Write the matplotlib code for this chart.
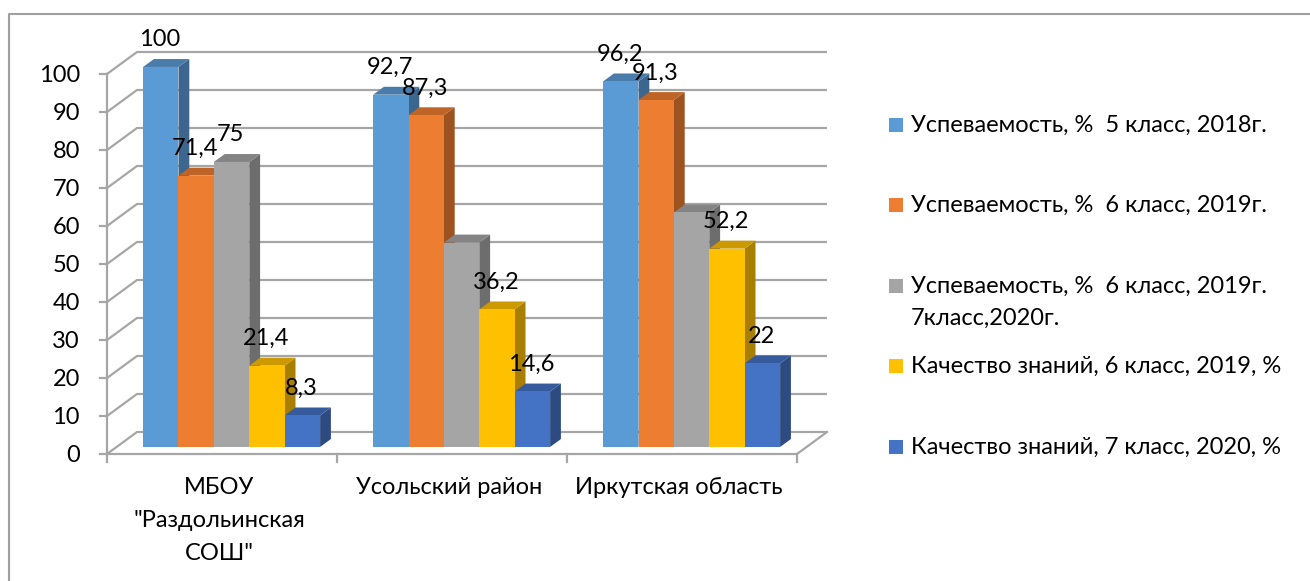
import matplotlib
matplotlib.use("Agg")
import matplotlib.pyplot as plt
from matplotlib.patches import Polygon, Rectangle
from matplotlib.lines import Line2D
from matplotlib.colors import to_rgb

# data
categories = ['МБОУ\n"Раздольинская\nСОШ"', "Усольский район", "Иркутская область"]
series_names = [
    "Успеваемость, %  5 класс, 2018г.",
    "Успеваемость, %  6 класс, 2019г.",
    "Успеваемость, %  6 класс, 2019г.\n7класс,2020г.",
    "Качество знаний, 6 класс, 2019, %",
    "Качество знаний, 7 класс, 2020, %",
]
uspev_5kl_2018 = [100, 92.7, 96.2]
uspev_6kl_2019 = [71.4, 87.3, 91.3]
uspev_7kl_2020 = [75, 53.8, 61.7]
kach_6kl_2019 = [21.4, 36.2, 52.2]
kach_7kl_2020 = [8.3, 14.6, 22]
series = [uspev_5kl_2018, uspev_6kl_2019, uspev_7kl_2020, kach_6kl_2019, kach_7kl_2020]
# the grey bars of the two right groups have no label in the original
show_label = [[1, 1, 1], [1, 1, 1], [1, 0, 0], [1, 1, 1], [1, 1, 1]]
yticks = list(range(0, 101, 10))

colors = ["#5B9BD5", "#ED7D31", "#A5A5A5", "#FFC000", "#4472C4"]
grid_color = "#A6A6A6"
text_color = "#000000"

plt.rcParams["font.family"] = ["Lato", "DejaVu Sans"]
fs = 17


def shade(c, k):
    r, g, b = to_rgb(c)
    return (r * k, g * k, b * k)


W, H = 1310, 581
fig = plt.figure(figsize=(W / 100, H / 100), dpi=100)
ax = fig.add_axes([0, 0, 1, 1])

# pixel scale of the front plane
px_cat = 230.0
px_val = 3.8
x0, y0 = 107, 454
ax.set_xlim(-x0 / px_cat, (W - x0) / px_cat)
ax.set_ylim((y0 - H) / px_val, y0 / px_val)
ax.axis("off")

# depth of the box (walls) and of the bars
DX = 30 / px_cat
DY = 22 / px_val
ncat = len(categories)

# walls + gridlines
for v in yticks:
    ax.plot([0, DX, ncat + DX], [v, v + DY, v + DY], color=grid_color, lw=1.6,
            solid_capstyle="butt", zorder=1)
    ax.plot([-7 / px_cat, 0], [v, v], color=grid_color, lw=1.6, zorder=1)
    ax.text(-27 / px_cat, v - 0.4, str(v), ha="right", va="center",
            fontsize=fs, color=text_color)
ax.plot([0, 0], [0, yticks[-1]], color=grid_color, lw=1.6, zorder=1)
ax.plot([0, ncat, ncat + DX], [0, 0, DY], color=grid_color, lw=1.6, zorder=1)
for i in range(ncat + 1):
    ax.plot([i, i], [0, -8 / px_val], color=grid_color, lw=1.6, zorder=1)

# category labels
for i, cat in enumerate(categories):
    for k, line in enumerate(cat.split("\n")):
        ax.text(i + 0.5 - 3 / px_cat, (y0 - 488 - 32.5 * k) / px_val, line,
                ha="center", va="center", fontsize=fs, color=text_color)

# bars
nser = len(series)
bw = 35.4 / px_cat
gap = (1 - nser * bw) / 2
d0, bd = 0.32, 0.36
ddx, ddy = bd * DX, bd * DY
z = 2
for i in range(ncat):
    for j in range(nser):
        v = series[j][i]
        xl = i + gap + j * bw + d0 * DX
        xr = xl + bw
        yb = d0 * DY
        yt = yb + v
        c = colors[j]
        ax.add_patch(Polygon([(xr, yb), (xr + ddx, yb + ddy), (xr + ddx, yt + ddy), (xr, yt)],
                             closed=True, fc=shade(c, 0.66), ec="none", zorder=z))
        ax.add_patch(Polygon([(xl, yt), (xr, yt), (xr + ddx, yt + ddy), (xl + ddx, yt + ddy)],
                             closed=True, fc=shade(c, 0.8), ec="none", zorder=z))
        ax.add_patch(Rectangle((xl, yb), bw, v, fc=c, ec="none", zorder=z))
        z += 1
        if show_label[j][i]:
            lab = f"{v:g}".replace(".", ",")
            ax.text((xl + xr) / 2 - 1 / px_cat, yt + 27 / px_val, lab, ha="center",
                    va="center", fontsize=fs, color=text_color, zorder=100)

# legend
leg_y = [125, 205, 286, 366, 447]
for name, c, yy in zip(series_names, colors, leg_y):
    fig.patches.append(Rectangle((889 / W, 1 - (yy + 7) / H), 14 / W, 14 / H,
                                 transform=fig.transFigure, fc=c, ec="none"))
    for k, line in enumerate(name.split("\n")):
        fig.text(911 / W, 1 - (yy + 32 * k) / H, line, ha="left", va="center",
                 fontsize=fs, color=text_color)

# chart border (cut on right and bottom)
fig.add_artist(Line2D([8.5 / W, 8.5 / W, 1], [0, 1 - 14 / H, 1 - 14 / H],
                      transform=fig.transFigure, color="#A0A0A0", lw=1.5))

fig.savefig("out.png", dpi=100)
